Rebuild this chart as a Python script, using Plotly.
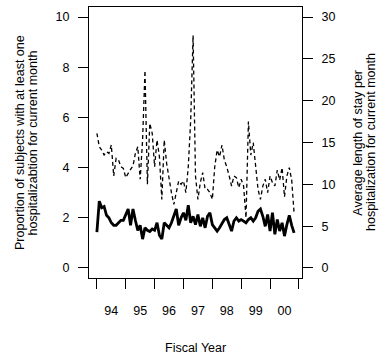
import plotly.graph_objects as go

# ---- data ----
months = list(range(83))  # monthly index from start of FY94
year_labels = ["94", "95", "96", "97", "98", "99", "00"]
year_label_pos = [6, 18, 30, 42, 54, 66, 78]
year_bounds = [0, 12, 24, 36, 48, 60, 72, 84]

proportion = [1.43, 2.66, 2.40, 2.45, 2.10, 2.00, 1.80, 1.70, 1.70, 1.80,
              1.90, 1.90, 2.10, 2.35, 1.70, 2.35, 1.90, 1.50, 1.70, 1.15,
              1.60, 1.50, 1.45, 1.55, 1.50, 1.80, 1.30, 1.15, 1.80, 1.70,
              1.60, 1.80, 2.10, 2.35, 1.70, 2.00, 2.20, 1.90, 2.50,
              1.80, 2.06, 1.73, 2.13, 1.66, 2.00, 1.60, 2.06, 2.20, 1.73,
              1.60, 1.47, 1.60, 1.80, 1.93, 2.00, 1.73, 1.47, 1.87, 2.00,
              1.87, 1.93, 1.87, 1.80, 1.93, 2.00, 1.87, 2.00, 2.26, 2.35,
              2.06, 1.66, 2.13, 1.47, 2.20, 1.34, 1.93, 1.47, 1.80, 1.27,
              1.73, 2.10, 1.70, 1.40]

length_of_stay = [16.1, 14.5, 14.1, 13.5, 13.9, 13.7, 14.7, 11.0, 13.1, 12.9,
                  12.1, 11.9, 10.8, 11.4, 11.8, 12.2, 13.7, 14.5, 10.6, 15.3,
                  23.6, 10.0, 17.3, 16.1, 12.1, 15.3, 13.3, 8.2, 15.3, 12.5,
                  10.6, 9.0, 7.6, 9.0, 10.4, 10.0, 10.4, 9.0, 12.1,
                  17.7, 27.8, 11.0, 8.2, 10.2, 11.4, 9.4, 9.4, 9.0, 8.2,
                  12.1, 14.1, 13.3, 14.7, 12.9, 12.1, 11.0, 9.8, 11.0, 10.8,
                  9.6, 10.6, 9.8, 6.0, 17.5, 13.5, 15.0, 12.1, 9.4, 8.2,
                  9.8, 10.6, 9.0, 11.0, 10.2, 9.8, 11.7, 10.5, 12.0, 8.5,
                  11.0, 12.0, 10.5, 6.5]

left_ticks = [0, 2, 4, 6, 8, 10]
right_ticks = [0, 5, 10, 15, 20, 25, 30]

FONT = "Liberation Sans, Arial, Helvetica, sans-serif"
FS = 12.5

fig = go.Figure()
fig.add_trace(go.Scatter(x=months, y=length_of_stay, mode="lines", yaxis="y2",
                         line=dict(color="black", width=1.3, dash="4px,3px"),
                         showlegend=False))
fig.add_trace(go.Scatter(x=months, y=proportion, mode="lines", yaxis="y",
                         line=dict(color="black", width=2.8),
                         showlegend=False))

n = len(months) - 1
pad = 0.04 * n
fig.update_layout(
    width=380, height=364,
    margin=dict(l=89, r=78, t=7, b=86, autoexpand=False),
    paper_bgcolor="white", plot_bgcolor="white",
    font=dict(family=FONT, size=FS, color="black"),
    xaxis=dict(range=[-pad, n + pad], tickmode="array", tickvals=year_label_pos,
               ticktext=year_labels, ticks="", showgrid=False, zeroline=False,
               showline=True, mirror=True, linecolor="black", linewidth=1,
               ticklabelstandoff=21, automargin=False,
               minor=dict(tickmode="array", tickvals=year_bounds, ticks="outside",
                          ticklen=10, tickcolor="black", tickwidth=1, showgrid=False)),
    yaxis=dict(range=[-0.4, 10.4], tickmode="array", tickvals=left_ticks,
               ticks="outside", ticklen=10, tickcolor="black", showgrid=False,
               zeroline=False, showline=True, mirror=True, linecolor="black",
               linewidth=1, ticklabelstandoff=6, automargin=False),
    yaxis2=dict(range=[-1.2, 31.2], overlaying="y", side="right", tickmode="array",
                tickvals=right_ticks, ticks="outside", ticklen=10, tickcolor="black",
                showgrid=False, zeroline=False, showline=False, ticklabelstandoff=6,
                automargin=False),
)

ann = dict(xref="paper", yref="paper", showarrow=False, xanchor="center",
           yanchor="middle", font=dict(family=FONT, size=FS, color="black"))
fig.add_annotation(text="Proportion of subjects with at least one", x=-0.3263, y=0.5,
                   textangle=-90, **ann)
fig.add_annotation(text="hospitalizabtion for current month", x=-0.2632, y=0.5,
                   textangle=-90, **ann)
fig.add_annotation(text="Average length of stay per", x=1.259, y=0.5,
                   textangle=-90, **ann)
fig.add_annotation(text="hospitalization for current month", x=1.3216, y=0.5,
                   textangle=-90, **ann)
fig.add_annotation(text="Fiscal Year", x=0.5, y=-0.2597, **ann)

fig.write_html("out.html", config={"displayModeBar": False},
               post_script="document.body.style.margin='0';document.body.style.overflow='hidden';")
